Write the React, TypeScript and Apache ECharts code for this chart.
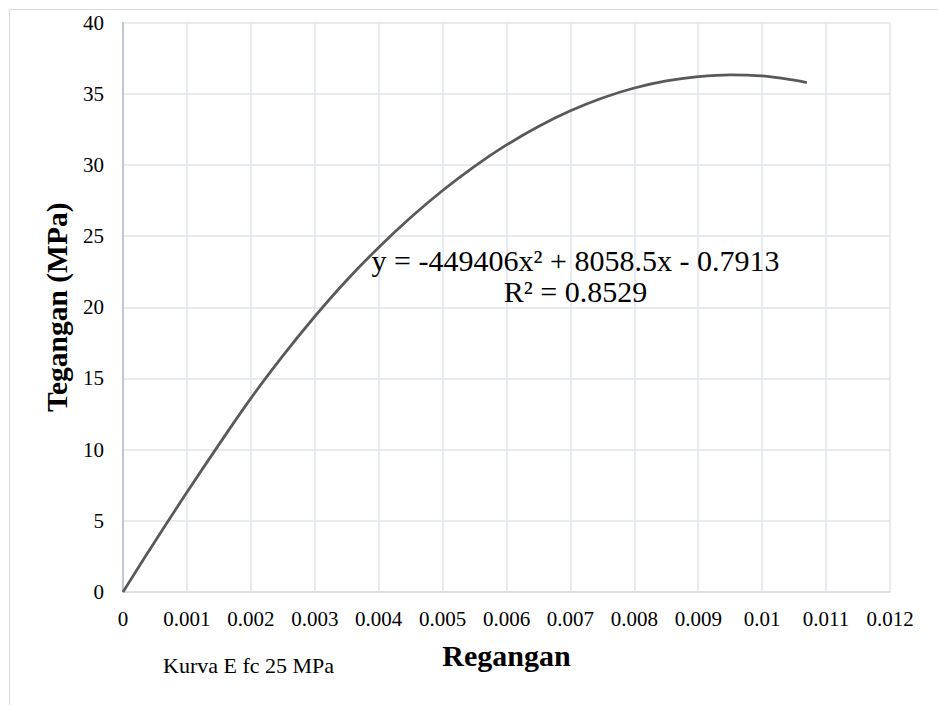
import React, { useEffect, useRef } from "react";
import * as echarts from "echarts";

const strainValues: number[] = [
  0, 0.0005, 0.001, 0.0015, 0.002, 0.0025, 0.003, 0.0035, 0.004, 0.0045, 0.005,
  0.0055, 0.006, 0.0065, 0.007, 0.0075, 0.008, 0.0085, 0.009, 0.0095, 0.01,
  0.0105, 0.0107,
];
const stressValues: number[] = [
  0, 3.55, 7.0, 10.35, 13.6, 16.58, 19.35, 21.9, 24.2, 26.3, 28.2, 29.9, 31.4,
  32.7, 33.8, 34.7, 35.4, 35.9, 36.2, 36.33, 36.25, 35.95, 35.78,
];

const xAxisTitle = "Regangan";
const yAxisTitle = "Tegangan (MPa)";
const equationLine = "y = -449406x² + 8058.5x - 0.7913";
const r2Line = "R² = 0.8529";
const captionText = "Kurva E fc 25 MPa";

const FONT = "Liberation Serif";

export default function App() {
  const ref = useRef<HTMLDivElement>(null);

  useEffect(() => {
    document.body.style.margin = "0";
    if (!ref.current) return;
    const chart = echarts.init(ref.current, undefined, { renderer: "svg" });
    const data = strainValues.map((x, i) => [x, stressValues[i]]);
    chart.setOption({
      animation: false,
      backgroundColor: "#ffffff",
      textStyle: { fontFamily: FONT },
      grid: { left: 123, right: 48, top: 22.5, bottom: 113, containLabel: false },
      xAxis: {
        type: "value",
        min: 0,
        max: 0.012,
        interval: 0.001,
        name: xAxisTitle,
        nameLocation: "middle",
        nameGap: 48,
        nameTextStyle: { fontFamily: FONT, fontSize: 30, fontWeight: "bold", color: "#000" },
        axisLine: { show: true, lineStyle: { color: "#d6dbe3", width: 1.5 } },
        axisTick: { show: false },
        axisLabel: {
          fontFamily: FONT,
          fontSize: 21,
          color: "#000",
          margin: 16,
          formatter: (v: number) => parseFloat(v.toFixed(4)).toString(),
        },
        splitLine: { show: true, lineStyle: { color: "#e0e4eb", width: 1.5 } },
      },
      yAxis: {
        type: "value",
        min: 0,
        max: 40,
        interval: 5,
        name: yAxisTitle,
        nameLocation: "middle",
        nameGap: 46,
        nameTextStyle: { fontFamily: FONT, fontSize: 29.5, fontWeight: "bold", color: "#000" },
        axisLine: { show: true, lineStyle: { color: "#b4bdcc", width: 1.5 } },
        axisTick: { show: false },
        axisLabel: { fontFamily: FONT, fontSize: 21, color: "#000", margin: 19 },
        splitLine: { show: true, lineStyle: { color: "#e0e4eb", width: 1.5 } },
      },
      series: [
        {
          type: "line",
          data,
          smooth: 0.4,
          showSymbol: false,
          symbol: "none",
          lineStyle: { color: "#595959", width: 2.75 },
        },
      ],
      graphic: [
        {
          type: "rect",
          shape: { x: 9.5, y: 9.5, width: 940, height: 710 },
          style: { fill: "none", stroke: "#d9d9d9", lineWidth: 1 },
          silent: true,
          z: -1,
        },
        {
          type: "text",
          x: 575.5,
          y: 276,
          style: {
            text: equationLine + "\n" + r2Line,
            fontFamily: FONT,
            fontSize: 30,
            lineHeight: 30.5,
            fill: "#000",
            align: "center",
            verticalAlign: "middle",
          },
          z: 10,
        },
        {
          type: "text",
          x: 163,
          y: 654,
          style: {
            text: captionText,
            fontFamily: FONT,
            fontSize: 22,
            fill: "#000",
            align: "left",
            verticalAlign: "top",
          },
        },
      ],
    });
    return () => chart.dispose();
  }, []);

  return <div ref={ref} style={{ width: 938, height: 705 }} />;
}
